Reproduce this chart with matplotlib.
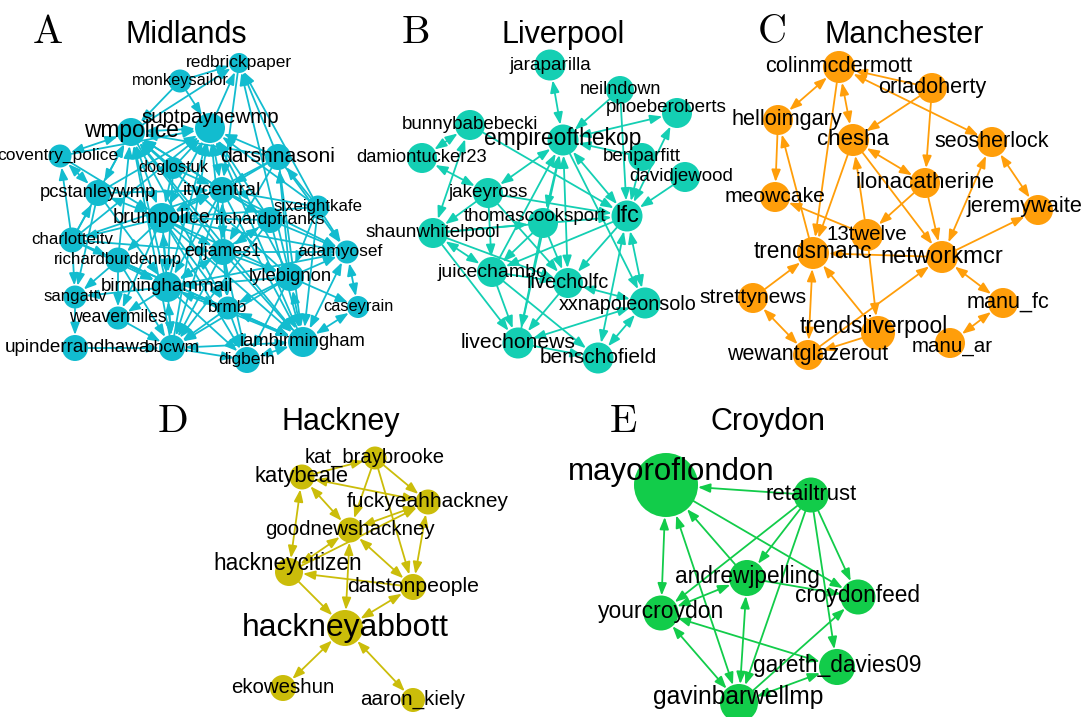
import matplotlib
matplotlib.use('Agg')
import matplotlib.pyplot as plt
from matplotlib.patches import Circle, FancyArrowPatch

plt.rcParams['font.family'] = ['Liberation Sans', 'DejaVu Sans']

# ---- Panel A: Midlands (layout coordinates, node radius, label size) ----
mid_names = ['redbrickpaper', 'monkeysailor', 'suptpaynewmp', 'wmpolice', 'coventry_police',
             'darshnasoni', 'doglostuk', 'itvcentral', 'pcstanleywmp', 'sixeightkafe',
             'brumpolice', 'richardpfranks', 'charlotteitv', 'edjames1', 'adamyosef',
             'richardburdenmp', 'lylebignon', 'birminghammail', 'sangattv', 'brmb',
             'caseyrain', 'weavermiles', 'iambirmingham', 'upinderrandhawa', 'bbcwm', 'digbeth']
mid_x = [239, 180, 210, 131, 60, 278, 173, 222, 98, 318, 162, 270, 72, 223, 347,
         118, 290, 167, 75, 228, 358, 118, 303, 75, 172, 247]
mid_y = [63, 81, 128, 132, 156, 157, 168, 190, 193, 207, 218, 220, 240, 252, 252,
         260, 277, 287, 297, 308, 307, 318, 342, 348, 348, 360]
mid_r = [10, 11.5, 15, 14, 11.5, 13, 11, 13, 13, 11.5, 15, 13, 12.5, 13, 11.5,
         12.5, 14, 15, 11.5, 11.5, 11, 11.5, 15, 13, 13, 13]
mid_fs = [12.5, 11.8, 14.8, 16.4, 12.5, 15.2, 11.8, 14, 13.2, 12.1, 14.4, 12.5, 12.2, 12.8, 12.5,
          12.2, 13.3, 13.5, 12.1, 12.4, 11.8, 12.7, 13.2, 13.6, 12.5, 12.5]
mid_edges = [
    ('monkeysailor', 'redbrickpaper', 0), ('suptpaynewmp', 'redbrickpaper', 0),
    ('darshnasoni', 'redbrickpaper', 0), ('sixeightkafe', 'redbrickpaper', 0),
    ('lylebignon', 'redbrickpaper', 0), ('redbrickpaper', 'itvcentral', 0),
    ('wmpolice', 'redbrickpaper', 0), ('monkeysailor', 'wmpolice', 0),
    ('monkeysailor', 'suptpaynewmp', 0), ('wmpolice', 'suptpaynewmp', 1),
    ('wmpolice', 'coventry_police', 1), ('wmpolice', 'pcstanleywmp', 1),
    ('brumpolice', 'wmpolice', 1), ('doglostuk', 'wmpolice', 0), ('itvcentral', 'wmpolice', 0),
    ('edjames1', 'wmpolice', 0), ('birminghammail', 'wmpolice', 0),
    ('richardburdenmp', 'wmpolice', 0), ('charlotteitv', 'wmpolice', 0),
    ('lylebignon', 'wmpolice', 0), ('iambirmingham', 'wmpolice', 0), ('bbcwm', 'wmpolice', 0),
    ('darshnasoni', 'wmpolice', 0), ('wmpolice', 'brmb', 0), ('richardpfranks', 'wmpolice', 0),
    ('brumpolice', 'suptpaynewmp', 1), ('doglostuk', 'suptpaynewmp', 0),
    ('itvcentral', 'suptpaynewmp', 1), ('edjames1', 'suptpaynewmp', 0),
    ('darshnasoni', 'suptpaynewmp', 0), ('pcstanleywmp', 'suptpaynewmp', 0),
    ('birminghammail', 'suptpaynewmp', 0), ('lylebignon', 'suptpaynewmp', 0),
    ('iambirmingham', 'suptpaynewmp', 0), ('richardpfranks', 'suptpaynewmp', 0),
    ('sixeightkafe', 'suptpaynewmp', 0), ('charlotteitv', 'suptpaynewmp', 0),
    ('bbcwm', 'suptpaynewmp', 0), ('coventry_police', 'suptpaynewmp', 0),
    ('pcstanleywmp', 'coventry_police', 1), ('charlotteitv', 'coventry_police', 0),
    ('coventry_police', 'brumpolice', 0), ('pcstanleywmp', 'brumpolice', 1),
    ('charlotteitv', 'pcstanleywmp', 0), ('pcstanleywmp', 'sangattv', 0),
    ('pcstanleywmp', 'birminghammail', 0), ('pcstanleywmp', 'itvcentral', 0),
    ('darshnasoni', 'itvcentral', 0), ('darshnasoni', 'brumpolice', 0),
    ('sixeightkafe', 'darshnasoni', 0), ('darshnasoni', 'iambirmingham', 0),
    ('darshnasoni', 'adamyosef', 0), ('lylebignon', 'darshnasoni', 0),
    ('darshnasoni', 'edjames1', 0), ('brumpolice', 'itvcentral', 1),
    ('itvcentral', 'edjames1', 1), ('itvcentral', 'bbcwm', 0),
    ('itvcentral', 'iambirmingham', 0), ('charlotteitv', 'itvcentral', 0),
    ('itvcentral', 'birminghammail', 0), ('itvcentral', 'adamyosef', 0),
    ('doglostuk', 'itvcentral', 0), ('itvcentral', 'richardpfranks', 0),
    ('itvcentral', 'brmb', 0), ('sixeightkafe', 'adamyosef', 0),
    ('sixeightkafe', 'iambirmingham', 0), ('sixeightkafe', 'lylebignon', 0),
    ('sixeightkafe', 'brumpolice', 0), ('sixeightkafe', 'itvcentral', 0),
    ('brumpolice', 'birminghammail', 1), ('brumpolice', 'bbcwm', 0),
    ('brumpolice', 'iambirmingham', 0), ('brumpolice', 'edjames1', 0),
    ('brumpolice', 'charlotteitv', 0), ('brumpolice', 'richardburdenmp', 0),
    ('brumpolice', 'brmb', 0), ('brumpolice', 'adamyosef', 0),
    ('brumpolice', 'lylebignon', 0), ('brumpolice', 'weavermiles', 0),
    ('brumpolice', 'digbeth', 0), ('richardpfranks', 'edjames1', 1),
    ('richardpfranks', 'iambirmingham', 0), ('richardpfranks', 'adamyosef', 0),
    ('richardpfranks', 'bbcwm', 0), ('richardpfranks', 'brumpolice', 0),
    ('richardpfranks', 'birminghammail', 0), ('charlotteitv', 'sangattv', 0),
    ('charlotteitv', 'birminghammail', 0), ('charlotteitv', 'edjames1', 0),
    ('charlotteitv', 'richardburdenmp', 0), ('charlotteitv', 'iambirmingham', 0),
    ('edjames1', 'birminghammail', 1), ('edjames1', 'iambirmingham', 0),
    ('edjames1', 'adamyosef', 0), ('edjames1', 'lylebignon', 0), ('edjames1', 'bbcwm', 0),
    ('edjames1', 'brmb', 0), ('edjames1', 'digbeth', 0), ('adamyosef', 'caseyrain', 1),
    ('iambirmingham', 'adamyosef', 1), ('lylebignon', 'adamyosef', 0),
    ('birminghammail', 'adamyosef', 0), ('richardburdenmp', 'birminghammail', 0),
    ('richardburdenmp', 'weavermiles', 0), ('richardburdenmp', 'bbcwm', 0),
    ('richardburdenmp', 'iambirmingham', 0), ('richardburdenmp', 'sangattv', 0),
    ('lylebignon', 'iambirmingham', 1), ('lylebignon', 'brmb', 0), ('lylebignon', 'bbcwm', 0),
    ('lylebignon', 'birminghammail', 0), ('lylebignon', 'digbeth', 0),
    ('lylebignon', 'caseyrain', 0), ('birminghammail', 'bbcwm', 1),
    ('birminghammail', 'iambirmingham', 1), ('birminghammail', 'brmb', 0),
    ('birminghammail', 'weavermiles', 0), ('birminghammail', 'digbeth', 0),
    ('birminghammail', 'sangattv', 0), ('sangattv', 'upinderrandhawa', 0),
    ('brmb', 'iambirmingham', 1), ('brmb', 'bbcwm', 0), ('brmb', 'digbeth', 0),
    ('caseyrain', 'iambirmingham', 1), ('weavermiles', 'bbcwm', 0),
    ('iambirmingham', 'bbcwm', 1), ('digbeth', 'iambirmingham', 1),
    ('upinderrandhawa', 'bbcwm', 0), ('bbcwm', 'digbeth', 0),
    ('doglostuk', 'brumpolice', 0), ('doglostuk', 'birminghammail', 0),
]

# ---- Panel B: Liverpool ----
liv_names = ['jaraparilla', 'neilndown', 'phoeberoberts', 'bunnybabebecki', 'empireofthekop',
             'damiontucker23', 'benparfitt', 'davidjewood', 'jakeyross', 'lfc',
             'thomascooksport', 'shaunwhitelpool', 'juicechambo', 'livecholfc',
             'xxnapoleonsolo', 'livechonews', 'benschofield']
liv_x = [180, 250, 307, 100, 193, 52, 272, 315, 118, 257, 173, 63, 122, 198, 275, 148, 228]
liv_y = [65, 90, 113, 125, 140, 158, 157, 177, 193, 216, 223, 233, 272, 283, 303, 343, 358]
liv_r = [15.5, 14, 15, 15, 15.5, 15, 14, 15, 15, 15.5, 15, 15, 15, 15, 15.5, 15.5, 15.5]
liv_fs = [13.7, 13, 13.6, 13.5, 16.4, 13.2, 13.5, 13.5, 13.6, 17, 13.6, 13.6, 14, 14.4,
          14.2, 15.2, 15]
liv_edges = [
    ('jaraparilla', 'empireofthekop', 1), ('neilndown', 'empireofthekop', 0),
    ('neilndown', 'lfc', 0), ('empireofthekop', 'phoeberoberts', 1), ('lfc', 'phoeberoberts', 1),
    ('benparfitt', 'empireofthekop', 0), ('benparfitt', 'lfc', 0), ('davidjewood', 'lfc', 0),
    ('bunnybabebecki', 'damiontucker23', 1), ('bunnybabebecki', 'shaunwhitelpool', 1),
    ('bunnybabebecki', 'lfc', 0), ('damiontucker23', 'jakeyross', 1),
    ('jakeyross', 'empireofthekop', 1), ('jakeyross', 'lfc', 0),
    ('jakeyross', 'shaunwhitelpool', 0), ('jakeyross', 'juicechambo', 0),
    ('jakeyross', 'livecholfc', 0), ('empireofthekop', 'lfc', 1),
    ('thomascooksport', 'empireofthekop', 1), ('livecholfc', 'empireofthekop', 1),
    ('juicechambo', 'empireofthekop', 0), ('empireofthekop', 'xxnapoleonsolo', 0),
    ('livechonews', 'empireofthekop', 0), ('lfc', 'xxnapoleonsolo', 1),
    ('lfc', 'benschofield', 1), ('lfc', 'livecholfc', 0), ('lfc', 'juicechambo', 0),
    ('shaunwhitelpool', 'lfc', 0), ('shaunwhitelpool', 'juicechambo', 1),
    ('shaunwhitelpool', 'livecholfc', 0), ('shaunwhitelpool', 'livechonews', 0),
    ('thomascooksport', 'juicechambo', 0), ('thomascooksport', 'livecholfc', 0),
    ('thomascooksport', 'livechonews', 0), ('juicechambo', 'livechonews', 0),
    ('juicechambo', 'benschofield', 0), ('juicechambo', 'livecholfc', 0),
    ('livecholfc', 'livechonews', 0), ('livecholfc', 'xxnapoleonsolo', 1),
    ('xxnapoleonsolo', 'livechonews', 1), ('xxnapoleonsolo', 'benschofield', 1),
    ('livechonews', 'benschofield', 0), ('shaunwhitelpool', 'thomascooksport', 0),
]

# ---- Panel C: Manchester ----
man_names = ['colinmcdermott', 'orladoherty', 'helloimgary', 'chesha', 'seosherlock',
             'meowcake', 'ilonacatherine', 'jeremywaite', '13twelve', 'trendsmanc',
             'networkmcr', 'strettynews', 'manu_fc', 'trendsliverpool', 'manu_ar',
             'wewantglazerout']
man_x = [119, 212, 58, 133, 272, 55, 205, 318, 147, 93, 222, 33, 283, 158, 230, 88]
man_y = [67, 88, 120, 140, 142, 197, 183, 210, 235, 253, 257, 298, 303, 333, 343, 355]
man_r = [16, 15, 15, 16, 15, 15, 15, 15, 16, 16, 16, 15, 15, 17, 15, 15]
man_fs = [15.7, 15.6, 15.6, 16, 15.5, 15.2, 16, 15.7, 14.8, 16.3, 17.1, 15.2, 15.6, 16.4,
          14.8, 15.5]
man_edges = [
    ('colinmcdermott', 'helloimgary', 1), ('colinmcdermott', 'chesha', 1),
    ('colinmcdermott', 'trendsmanc', 0), ('orladoherty', 'colinmcdermott', 0),
    ('colinmcdermott', 'seosherlock', 1), ('orladoherty', 'chesha', 0),
    ('orladoherty', 'ilonacatherine', 0), ('helloimgary', 'meowcake', 0),
    ('trendsmanc', 'helloimgary', 0), ('chesha', 'trendsmanc', 0), ('13twelve', 'chesha', 0),
    ('chesha', 'ilonacatherine', 1), ('chesha', 'networkmcr', 0),
    ('ilonacatherine', '13twelve', 0), ('ilonacatherine', 'networkmcr', 0),
    ('seosherlock', 'networkmcr', 1), ('seosherlock', 'jeremywaite', 1),
    ('networkmcr', 'jeremywaite', 0), ('13twelve', 'meowcake', 0),
    ('networkmcr', 'trendsmanc', 0), ('networkmcr', 'manu_fc', 1), ('manu_fc', 'manu_ar', 1),
    ('strettynews', 'trendsmanc', 0), ('strettynews', 'wewantglazerout', 1),
    ('wewantglazerout', 'trendsmanc', 1), ('trendsliverpool', 'trendsmanc', 0),
    ('wewantglazerout', 'networkmcr', 0), ('trendsliverpool', 'wewantglazerout', 0),
    ('13twelve', 'trendsliverpool', 0),
]

# ---- Panel D: Hackney ----
hck_names = ['kat_braybrooke', 'katybeale', 'fuckyeahhackney', 'goodnewshackney',
             'hackneycitizen', 'dalstonpeople', 'hackneyabbott', 'ekoweshun', 'aaron_kiely']
hck_x = [225, 152, 278, 200, 139, 263, 195, 133, 263]
hck_y = [68, 87, 112, 140, 182, 197, 238, 298, 310]
hck_r = [11.5, 12.5, 12.5, 12.5, 14, 13, 18, 13, 12]
hck_fs = [14.6, 15.8, 15, 14.8, 16.3, 15.3, 22.9, 14.7, 14.8]
hck_edges = [
    ('katybeale', 'kat_braybrooke', 0), ('kat_braybrooke', 'fuckyeahhackney', 0),
    ('kat_braybrooke', 'goodnewshackney', 0), ('kat_braybrooke', 'dalstonpeople', 0),
    ('katybeale', 'fuckyeahhackney', 1), ('katybeale', 'goodnewshackney', 1),
    ('katybeale', 'hackneycitizen', 1), ('goodnewshackney', 'fuckyeahhackney', 1),
    ('goodnewshackney', 'hackneycitizen', 1), ('goodnewshackney', 'dalstonpeople', 1),
    ('goodnewshackney', 'hackneyabbott', 1), ('fuckyeahhackney', 'dalstonpeople', 1),
    ('hackneycitizen', 'fuckyeahhackney', 0), ('dalstonpeople', 'hackneycitizen', 0),
    ('hackneycitizen', 'hackneyabbott', 0), ('dalstonpeople', 'hackneyabbott', 1),
    ('hackneyabbott', 'ekoweshun', 1), ('hackneyabbott', 'aaron_kiely', 1),
]

# ---- Panel E: Croydon ----
cry_names = ['mayoroflondon', 'retailtrust', 'andrewjpelling', 'croydonfeed', 'yourcroydon',
             'gareth_davies09', 'gavinbarwellmp']
cry_x = [126, 271, 207, 318, 121, 297, 199]
cry_y = [95, 105, 188, 207, 223, 277, 313]
cry_r = [32, 17.5, 18, 17.5, 17.5, 18, 19]
cry_fs = [22.5, 15.9, 16.3, 16.3, 16.5, 16.4, 17.7]
cry_edges = [
    ('retailtrust', 'mayoroflondon', 0), ('mayoroflondon', 'yourcroydon', 1),
    ('gavinbarwellmp', 'mayoroflondon', 1), ('andrewjpelling', 'mayoroflondon', 0),
    ('mayoroflondon', 'croydonfeed', 0), ('retailtrust', 'andrewjpelling', 0),
    ('retailtrust', 'yourcroydon', 0), ('retailtrust', 'gavinbarwellmp', 0),
    ('retailtrust', 'croydonfeed', 0), ('retailtrust', 'gareth_davies09', 0),
    ('andrewjpelling', 'yourcroydon', 1), ('andrewjpelling', 'croydonfeed', 0),
    ('andrewjpelling', 'gavinbarwellmp', 1), ('yourcroydon', 'gavinbarwellmp', 1),
    ('yourcroydon', 'gareth_davies09', 1), ('gavinbarwellmp', 'croydonfeed', 0),
    ('gavinbarwellmp', 'gareth_davies09', 1),
]

# small label shifts where the label is not centred on its node
label_nudge = {
    'suptpaynewmp': (0, -10), 'coventry_police': (-2, 0), 'adamyosef': (-7, 0),
    'upinderrandhawa': (2, 0), 'phoeberoberts': (-11, -5), 'thomascooksport': (-8, -6),
    'xxnapoleonsolo': (-17, 2), 'davidjewood': (-4, 0), 'helloimgary': (9, 0),
    'jeremywaite': (-14, -3), 'trendsliverpool': (-4, -5), 'manu_fc': (5, 0),
    'manu_ar': (2, 4), 'hackneycitizen': (-1, -7), 'mayoroflondon': (5, -12),
    'gavinbarwellmp': (-1, -5),
}

panels = [
    # letter, title, colour, panel origin, letter pos, title pos (panel-local), data
    ('A', 'Midlands', '#12BCCF', (0, 0), (48, 43), (186, 43),
     (mid_names, mid_x, mid_y, mid_r, mid_fs, mid_edges)),
    ('B', 'Liverpool', '#14CFB3', (370, 0), (46, 43), (193, 43),
     (liv_names, liv_x, liv_y, liv_r, liv_fs, liv_edges)),
    ('C', 'Manchester', '#FF9E0A', (720, 0), (52, 43), (184, 43),
     (man_names, man_x, man_y, man_r, man_fs, man_edges)),
    ('D', 'Hackney', '#CBBD0A', (150, 390), (23, 42), (191, 40),
     (hck_names, hck_x, hck_y, hck_r, hck_fs, hck_edges)),
    ('E', 'Croydon', '#12CC4A', (540, 390), (83, 42), (228, 40),
     (cry_names, cry_x, cry_y, cry_r, cry_fs, cry_edges)),
]

fig = plt.figure(figsize=(10.86, 7.17), dpi=100)
ax = fig.add_axes([0, 0, 1, 1])
ax.set_xlim(0, 1086)
ax.set_ylim(717, 0)
ax.axis('off')

for letter, title, color, (ox, oy), lpos, tpos, data in panels:
    names, xs, ys, rs, fss, edges = data
    pos = {n: (ox + x, oy + y) for n, x, y in zip(names, xs, ys)}
    rad = dict(zip(names, rs))

    ax.text(ox + lpos[0], oy + lpos[1], letter, fontsize=29, family='cmr10',
            ha='center', va='baseline')
    ax.text(ox + tpos[0], oy + tpos[1], title, fontsize=22, ha='center', va='baseline')

    # arestas (setas)
    for a, b, both in edges:
        style = '<|-|>' if both else '-|>'
        arr = FancyArrowPatch(pos[a], pos[b], arrowstyle=style, mutation_scale=10,
                              shrinkA=rad[a] * 0.72, shrinkB=rad[b] * 0.72,
                              color=color, lw=1.3, zorder=1)
        arr.set_arrowstyle(style, head_length=0.72, head_width=0.27)
        ax.add_patch(arr)

    # nós
    for n, r in zip(names, rs):
        ax.add_patch(Circle(pos[n], r, facecolor=color, edgecolor='none', zorder=2))

    # rótulos
    for n, fs in zip(names, fss):
        dx, dy = label_nudge.get(n, (0, 0))
        x, y = pos[n]
        ax.text(x + dx, y + dy + 0.33 * fs, n, fontsize=fs, ha='center', va='baseline',
                color='black', zorder=3)

fig.savefig('out.png', dpi=100)
